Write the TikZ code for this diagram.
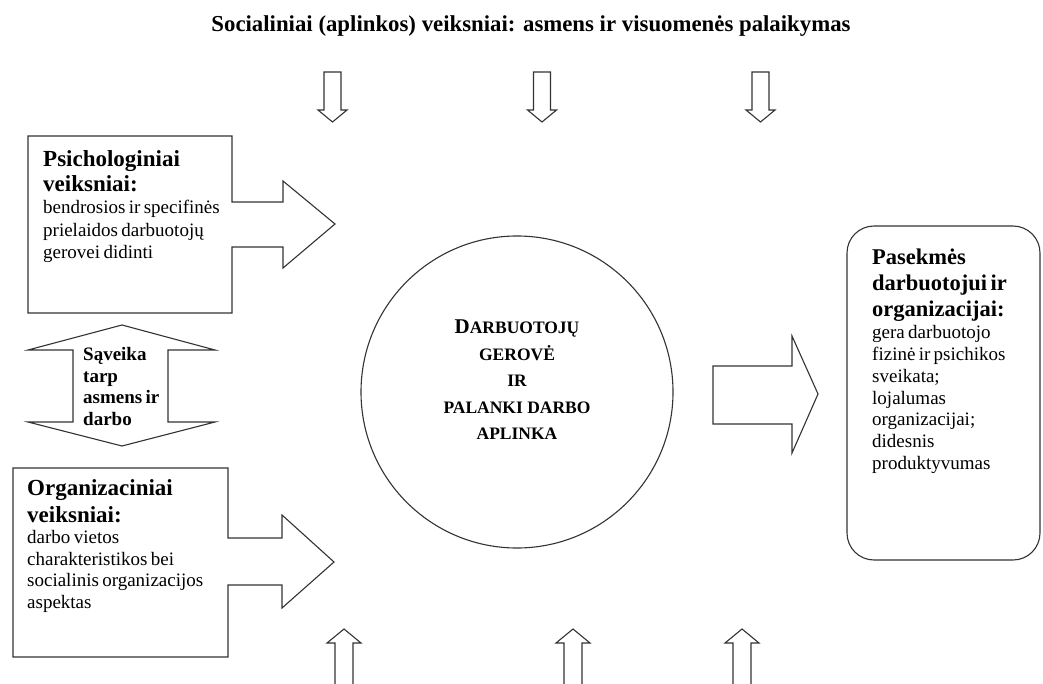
\documentclass[tikz,border=0pt]{standalone}
\usepackage{fontspec}
\setmainfont{Liberation Serif}
\begin{document}
\begin{tikzpicture}[x=1pt,y=-1pt,
  outline/.style={draw=black!80, line width=1.1pt, line join=miter, fill=white},
  txt/.style={inner sep=0pt, anchor=north west, align=left, text width=#1},
  downarrow/.pic={\draw[outline] (-8.5,0) -- (8.5,0) -- (8.5,38) -- (14.5,38)
      -- (0,50) -- (-14.5,38) -- (-8.5,38) -- cycle;},
  uparrow/.pic={\draw[outline] (0,0) -- (17,14) -- (9,14) -- (9,70) -- (-9,70)
      -- (-9,14) -- (-17,14) -- cycle;}]
\clip (0,0) rectangle (1043,684);
\fill[white] (0,0) rectangle (1043,684);

% title
\node[anchor=base, inner sep=0pt, font=\fontsize{22.8}{26}\selectfont\bfseries]
  (title) at (531,32) {Socialiniai (aplinkos) veiksniai: asmens ir visuomenės palaikymas};

% social influences from above and below
\pic at (332.5,72) {downarrow};
\pic at (542,72) {downarrow};
\pic at (760.5,72) {downarrow};
\pic at (344,629) {uparrow};
\pic at (573,629) {uparrow};
\pic at (742,629) {uparrow};

% psychological factors box with its arrow
\draw[outline] (28,136) -- (232,136) -- (232,202) -- (283,202) -- (283,181)
  -- (335,224) -- (283,268) -- (283,247) -- (232,247) -- (232,313) -- (28,313) -- cycle;
\node[txt=190pt] (psych) at (43,150)
  {\fontsize{23}{25}\selectfont\bfseries Psichologiniai\\ veiksniai:\par
   \fontsize{19}{22.5}\selectfont\mdseries bendrosios ir specifinės\\ prielaidos darbuotojų\\ gerovei didinti\par};

% interaction double arrow
\draw[outline] (122,325) -- (215,350) -- (168,350) -- (168,422) -- (215,422)
  -- (122,446) -- (28,422) -- (73,422) -- (73,350) -- (28,350) -- cycle;
\node[txt=90pt] (saveika) at (83,347)
  {\fontsize{19}{21.7}\selectfont\bfseries Sąveika\\ tarp\\ asmens ir\\ darbo\par};

% organisational factors box with its arrow
\draw[outline] (13,468) -- (228,468) -- (228,538) -- (282,538) -- (282,515)
  -- (334,562) -- (282,608) -- (282,585) -- (228,585) -- (228,657) -- (13,657) -- cycle;
\node[txt=200pt] (org) at (27,479)
  {\fontsize{23}{27}\selectfont\bfseries Organizaciniai\\ veiksniai:\par
   \fontsize{19}{21.5}\selectfont\mdseries darbo vietos\\ charakteristikos bei\\ socialinis organizacijos\\ aspektas\par};

% central circle
\node[draw=black!80, line width=1.1pt, circle, minimum size=312pt, inner sep=0pt]
  (wellbeing) at (517,392) {};
\node[anchor=north, inner sep=0pt, align=center,
      font=\fontsize{17.5}{26.5}\selectfont\bfseries] (wbtext) at (517,320)
  {{\fontsize{21}{26.5}\selectfont D}ARBUOTOJŲ\\ GEROVĖ\\ IR\\ PALANKI DARBO\\ APLINKA};

% outcome arrow and box
\draw[outline] (713,366) -- (792,366) -- (792,336) -- (818,394) -- (792,453)
  -- (792,424) -- (713,424) -- cycle;
\draw[outline, rounded corners=27pt] (847,226) rectangle (1040,560);
\node[txt=165pt] (outcome) at (872,249)
  {\fontsize{22.5}{26}\selectfont\bfseries Pasekmės\\ darbuotojui ir\\ organizacijai:\par
   \fontsize{19}{21.8}\selectfont\mdseries gera darbuotojo\\ fizinė ir psichikos\\ sveikata;\\ lojalumas\\ organizacijai;\\ didesnis\\ produktyvumas\par};
\end{tikzpicture}
\end{document}
